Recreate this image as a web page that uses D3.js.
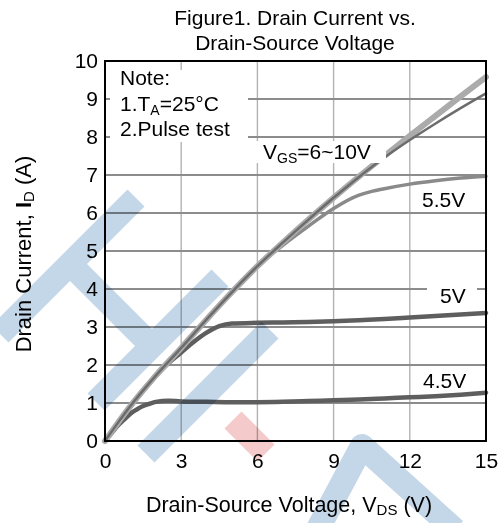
<!DOCTYPE html>
<html><head><meta charset="utf-8">
<script src="https://cdn.jsdelivr.net/npm/d3@7"></script>
<style>
body{margin:0;background:#fff}
svg{display:block}
text{font-family:"Liberation Sans",Arial,Helvetica,sans-serif;fill:#000}
</style>
</head><body>
<svg id="c" width="502" height="523"></svg>
<script>
// ---- data ----
const xTicks = [0, 3, 6, 9, 12, 15];
const yTicks = [0, 1, 2, 3, 4, 5, 6, 7, 8, 9, 10];
const xGrid = [3, 6, 9, 12];
const yGrid = [1, 2, 3, 4, 5, 6, 7, 8, 9];

const vdsMain = [0, 0.5, 1, 2, 3, 4, 5, 6, 7, 8, 9, 10, 11, 12, 13, 14, 15];
const idVgs6to10Upper = [0, 0.47, 0.92, 1.72, 2.45, 3.2, 3.92, 4.6, 5.22, 5.82, 6.4, 6.96, 7.5, 8.03, 8.55, 9.07, 9.58];
const idVgs6to10Lower = [0, 0.47, 0.92, 1.72, 2.45, 3.2, 3.92, 4.6, 5.22, 5.82, 6.4, 6.95, 7.46, 7.92, 8.35, 8.76, 9.15];

const vds55 = [0, 0.5, 1, 2, 3, 4, 5, 6, 7, 8, 9, 10, 10.5, 11, 12, 13, 14, 15];
const idVgs55 = [0, 0.47, 0.92, 1.72, 2.45, 3.2, 3.92, 4.6, 5.15, 5.65, 6.12, 6.47, 6.57, 6.64, 6.76, 6.85, 6.92, 6.97];

const vds5 = [0, 0.5, 1, 1.5, 2, 2.5, 3, 3.5, 4, 4.5, 5, 6, 7, 8, 9, 10, 11, 12, 13, 14, 15];
const idVgs5 = [0, 0.46, 0.9, 1.32, 1.72, 2.05, 2.33, 2.61, 2.85, 3.02, 3.09, 3.11, 3.12, 3.13, 3.15, 3.18, 3.21, 3.25, 3.29, 3.33, 3.37];

const vds45 = [0, 0.25, 0.5, 0.75, 1, 1.25, 1.5, 1.75, 2, 2.5, 3, 4, 5, 6, 7, 8, 9, 10, 11, 12, 13, 14, 15];
const idVgs45 = [0, 0.2, 0.4, 0.56, 0.72, 0.83, 0.92, 0.98, 1.03, 1.06, 1.04, 1.03, 1.02, 1.02, 1.03, 1.05, 1.07, 1.09, 1.12, 1.15, 1.18, 1.22, 1.27];

const titleLines = ["Figure1. Drain Current vs.", "Drain-Source Voltage"];
const noteLines = ["Note:", "1.T_A=25°C", "2.Pulse test"];

// ---- setup ----
const svg = d3.select("#c");
const x = d3.scaleLinear().domain([0, 15]).range([105, 486]);
const y = d3.scaleLinear().domain([0, 10]).range([441, 61]);
const FS = 21;

svg.append("rect").attr("width", 502).attr("height", 523).attr("fill", "#fff");

// grid
const g = svg.append("g");
g.selectAll("line.v").data(xGrid).join("line")
  .attr("x1", d => x(d)).attr("x2", d => x(d)).attr("y1", y(0)).attr("y2", y(10))
  .attr("stroke", "#b3b3b3").attr("stroke-width", 1.4);
g.selectAll("line.h").data(yGrid).join("line")
  .attr("x1", x(0)).attr("x2", x(15)).attr("y1", d => y(d)).attr("y2", d => y(d))
  .attr("stroke", "#8c8c8c").attr("stroke-width", 2);

// note box (covers grid)
svg.append("rect").attr("x", 110).attr("y", 70).attr("width", 138).attr("height", 72).attr("fill", "#fff");

// curves
const mk = (xs, ys) => xs.map((v, i) => [v, ys[i]]);
const line = d3.line().x(d => x(d[0])).y(d => y(d[1])).curve(d3.curveMonotoneX);
const curves = svg.append("g").attr("fill", "none").attr("stroke-linecap", "round");
curves.append("path").attr("d", line(mk(vds45, idVgs45))).attr("stroke", "#5e5e5e").attr("stroke-width", 4.5);
curves.append("path").attr("d", line(mk(vds5, idVgs5))).attr("stroke", "#5e5e5e").attr("stroke-width", 4.5);
curves.append("path").attr("d", line(mk(vds55, idVgs55))).attr("stroke", "#8a8a8a").attr("stroke-width", 3.5);
curves.append("path").attr("d", line(mk(vdsMain, idVgs6to10Upper))).attr("stroke", "#ababab").attr("stroke-width", 6);
curves.append("path").attr("d", line(mk(vdsMain, idVgs6to10Lower))).attr("stroke", "#6c6c6c").attr("stroke-width", 2.5);

// label boxes
const boxes = [[255, 141, 131, 22], [416, 186, 54, 22], [427, 286, 50, 20], [418, 369, 54, 22]];
svg.selectAll("rect.lb").data(boxes).join("rect")
  .attr("x", d => d[0]).attr("y", d => d[1]).attr("width", d => d[2]).attr("height", d => d[3]).attr("fill", "#fff");

// frame
svg.append("rect").attr("x", x(0)).attr("y", y(10)).attr("width", x(15) - x(0)).attr("height", y(0) - y(10))
  .attr("fill", "none").attr("stroke", "#000").attr("stroke-width", 2);

// axes
const xa = svg.append("g").attr("transform", `translate(0,${y(0)})`)
  .call(d3.axisBottom(x).tickValues(xTicks).tickSize(0).tickPadding(12).tickFormat(d3.format("d")));
const ya = svg.append("g").attr("transform", `translate(${x(0)},0)`)
  .call(d3.axisLeft(y).tickValues(yTicks).tickSize(0).tickPadding(7).tickFormat(d3.format("d")));
[xa, ya].forEach(a => {
  a.select(".domain").remove();
  a.selectAll("text").attr("font-size", FS).attr("font-family", '"Liberation Sans",Arial,sans-serif').attr("fill", "#000");
});

// title
svg.selectAll("text.title").data(titleLines).join("text")
  .attr("x", 295).attr("y", (d, i) => 25 + i * 25).attr("text-anchor", "middle").attr("font-size", FS).text(d => d);

// axis titles
const xt = svg.append("text").attr("x", 289).attr("y", 512).attr("text-anchor", "middle").attr("font-size", 21.5);
xt.append("tspan").text("Drain-Source Voltage, V");
xt.append("tspan").attr("font-size", 15).attr("dy", 3).text("DS");
xt.append("tspan").attr("dy", -3).text(" (V)");

const yt = svg.append("text").attr("transform", "translate(31,254) rotate(-90)").attr("text-anchor", "middle").attr("font-size", 22);
yt.append("tspan").text("Drain Current, ");
yt.append("tspan").attr("font-weight", "bold").text("I");
yt.append("tspan").attr("font-size", 15).attr("dy", 3).text("D");
yt.append("tspan").attr("dy", -3).text(" (A)");

// note
svg.append("text").attr("x", 120).attr("y", 85).attr("font-size", FS).text(noteLines[0]);
const n1 = svg.append("text").attr("x", 120).attr("y", 111).attr("font-size", FS);
n1.append("tspan").text("1.T");
n1.append("tspan").attr("font-size", 14).attr("dy", 4).text("A");
n1.append("tspan").attr("dy", -4).text("=25°C");
svg.append("text").attr("x", 120).attr("y", 136).attr("font-size", FS).text(noteLines[2]);

// curve labels
const lv = svg.append("text").attr("x", 263).attr("y", 159).attr("font-size", FS);
lv.append("tspan").text("V");
lv.append("tspan").attr("font-size", 14).attr("dy", 4).text("GS");
lv.append("tspan").attr("dy", -4).text("=6~10V");
svg.append("text").attr("x", 422).attr("y", 207).attr("font-size", FS).text("5.5V");
svg.append("text").attr("x", 440).attr("y", 303).attr("font-size", FS).text("5V");
svg.append("text").attr("x", 423).attr("y", 388).attr("font-size", FS).text("4.5V");

// decorative watermark
const wm = svg.append("g").attr("fill", "none").attr("stroke-width", 24).style("mix-blend-mode", "multiply");
const blue = "#c4d7e8";
["M0,334L136,198", "M70,264L156,350", "M220,278L96,402", "M270,330L146,454"].forEach(p =>
  wm.append("path").attr("d", p).attr("stroke", blue));
wm.append("path").attr("d", "M312,540L362,446L455,530").attr("stroke", blue).attr("stroke-linejoin", "round");
wm.append("path").attr("d", "M233,420L266,453").attr("stroke", "#f4caca");
</script>
</body></html>
